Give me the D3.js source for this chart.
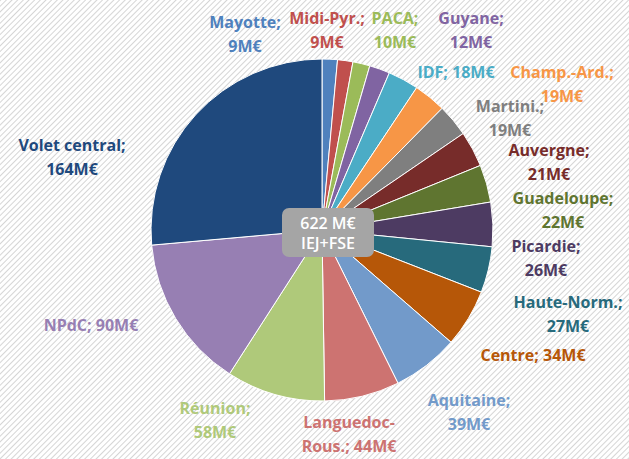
<!DOCTYPE html>
<html>
<head>
<meta charset="utf-8">
<script src="https://cdn.jsdelivr.net/npm/d3@7"></script>
<style>
  body { margin: 0; background: #fff; }
  svg { display: block; }
</style>
</head>
<body>
<script>
// data
var regions = ["Mayotte", "Midi-Pyr.", "PACA", "Guyane", "IDF", "Champ.-Ard.", "Martini.",
               "Auvergne", "Guadeloupe", "Picardie", "Haute-Norm.", "Centre", "Aquitaine",
               "Languedoc-Rous.", "Réunion", "NPdC", "Volet central"];
var amounts = [9, 9, 10, 12, 18, 19, 19, 21, 22, 26, 27, 34, 39, 44, 58, 90, 164];
var totalLabel = ["622 M€", "IEJ+FSE"];

// how each label is broken in lines
var labelLines = [
  ["Mayotte;", "9M€"], ["Midi-Pyr.;", "9M€"], ["PACA;", "10M€"], ["Guyane;", "12M€"],
  ["IDF; 18M€"], ["Champ.-Ard.;", "19M€"], ["Martini.;", "19M€"], ["Auvergne;", "21M€"],
  ["Guadeloupe;", "22M€"], ["Picardie;", "26M€"], ["Haute-Norm.;", "27M€"], ["Centre; 34M€"],
  ["Aquitaine;", "39M€"], ["Languedoc-", "Rous.; 44M€"], ["Réunion;", "58M€"],
  ["NPdC; 90M€"], ["Volet central;", "164M€"]
];

// layout: label offsets from the pie centre (first line)
var labelPos = [
  [-77, -208], [5, -212], [73, -212], [149, -212], [134, -158], [240, -158], [188, -124],
  [227, -80], [241, -32], [224, 16], [246, 72], [211, 125], [147, 170], [27, 192],
  [-107, 178], [-231, 95], [-250, -85]
];
var lineGap = 24;

var colors = ["#4F81BD", "#C0504D", "#9BBB59", "#8064A2", "#4BACC6", "#F79646", "#7F7F7F",
              "#772C2A", "#5F7530", "#4D3B62", "#276A7C", "#B65708", "#729ACA", "#CD7371",
              "#AFC97A", "#977FB3", "#1F497D"];

var w = 629, h = 459;
var cx = 322, cy = 230, r = 171;

var svg = d3.select("body").append("svg")
    .attr("width", w)
    .attr("height", h);

// hatched background
var pat = svg.append("defs").append("pattern")
    .attr("id", "hatch")
    .attr("patternUnits", "userSpaceOnUse")
    .attr("width", 4)
    .attr("height", 4)
    .attr("patternTransform", "rotate(45)");
pat.append("rect").attr("width", 4).attr("height", 4).attr("fill", "#fff");
pat.append("line")
    .attr("x1", 0).attr("y1", 0).attr("x2", 0).attr("y2", 4)
    .attr("stroke", "#c4c4c4")
    .attr("stroke-width", 1.4);

svg.append("rect")
    .attr("width", w)
    .attr("height", h)
    .attr("fill", "url(#hatch)");

var color = d3.scaleOrdinal().domain(regions).range(colors);

var pie = d3.pie().sort(null).value(function(d) { return d; });
var arc = d3.arc().innerRadius(0).outerRadius(r);

var g = svg.append("g").attr("transform", "translate(" + cx + "," + cy + ")");

g.selectAll("path")
   .data(pie(amounts))
   .enter()
   .append("path")
   .attr("d", arc)
   .attr("fill", function(d, i) { return color(regions[i]); })
   .attr("stroke", "#fff")
   .attr("stroke-width", 1);

// labels
var labels = g.selectAll("text.lbl")
   .data(regions)
   .enter()
   .append("text")
   .attr("class", "lbl")
   .attr("text-anchor", "middle")
   .attr("font-family", "'Open Sans', sans-serif")
   .attr("font-weight", "bold")
   .attr("font-size", "16px")
   .attr("fill", function(d) { return color(d); });

labels.each(function(d, i) {
  var t = d3.select(this);
  labelLines[i].forEach(function(line, k) {
    t.append("tspan")
     .attr("x", labelPos[i][0])
     .attr("y", labelPos[i][1] + k * lineGap)
     .attr("dy", "0.36em")
     .text(line);
  });
});

// centre box
g.append("rect")
   .attr("x", -40)
   .attr("y", -22)
   .attr("width", 92)
   .attr("height", 49)
   .attr("rx", 7)
   .attr("fill", "#A5A5A5");

g.selectAll("text.tot")
   .data(totalLabel)
   .enter()
   .append("text")
   .attr("class", "tot")
   .attr("x", 6)
   .attr("y", function(d, i) { return -7 + i * 20; })
   .attr("dy", "0.36em")
   .attr("text-anchor", "middle")
   .attr("font-family", "'Open Sans', sans-serif")
   .attr("font-weight", 600)
   .attr("font-size", "16px")
   .attr("fill", "#fff")
   .text(function(d) { return d; });
</script>
</body>
</html>
